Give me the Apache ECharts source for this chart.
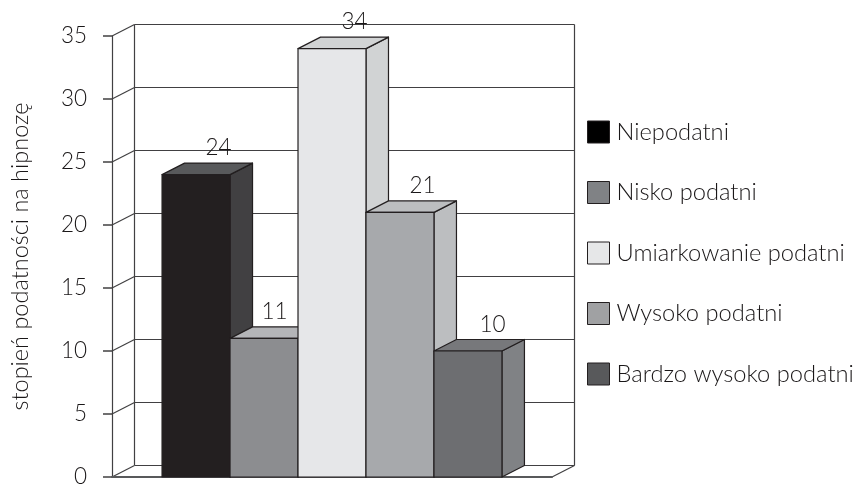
<!DOCTYPE html>
<html>
<head>
<meta charset="utf-8">
<style>html,body{margin:0;padding:0;background:#fff}#c{width:857px;height:484px}</style>
<script src="https://cdn.jsdelivr.net/npm/echarts@6/dist/echarts.min.js"></script>
</head>
<body>
<div id="c"></div>
<script>
const categories = [''];
const seriesNames = ['Niepodatni', 'Nisko podatni', 'Umiarkowanie podatni', 'Wysoko podatni', 'Bardzo wysoko podatni'];
const seriesValues = [24, 11, 34, 21, 10];
const yTicks = [0, 5, 10, 15, 20, 25, 30, 35];
const yAxisTitle = 'stopień podatności na hipnozę';

const frontColors = ['#231f20', '#8c8d90', '#e6e7e9', '#a7a9ac', '#6d6e71'];
const sideColors = ['#414042', '#a7a9ac', '#d1d3d4', '#bcbec0', '#808285'];
const topColors = ['#58595b', '#b4b5b8', '#d1d3d4', '#bcbec0', '#77787b'];
const legendColors = ['#000000', '#808285', '#e6e7e8', '#a0a1a3', '#58595b'];

const FONT = 'Lato, sans-serif';
const TEXT = '#1a1718';
const LINE = '#414042';
const DEPTH_X = 22.5;
const DEPTH_Y = 11.5;
const BAR_SHARE = 0.1545;
// Horizontal label shift per column; the second label sits clear of the taller neighbour.
const LABEL_SHIFT = [0, -12, 0, 0, 2];

// Back wall, side wall and floor of the 3D box, one gridline per tick.
function renderWalls(params, api) {
  const cs = params.coordSys;
  const y = api.coord([0, api.value(0)])[1];
  const lineStyle = { stroke: LINE, lineWidth: 1.2, fill: null };
  const left = cs.x, right = cs.x + cs.width;
  const children = [
    { type: 'line', shape: { x1: left, y1: y, x2: left + DEPTH_X, y2: y - DEPTH_Y }, style: lineStyle },
    { type: 'line', shape: { x1: left + DEPTH_X, y1: y - DEPTH_Y, x2: right + DEPTH_X, y2: y - DEPTH_Y }, style: lineStyle }
  ];
  if (api.value(0) === 0) {
    const topY = cs.y - DEPTH_Y;
    children.push(
      { type: 'line', shape: { x1: left + DEPTH_X, y1: y - DEPTH_Y, x2: left + DEPTH_X, y2: topY }, style: lineStyle },
      { type: 'line', shape: { x1: right + DEPTH_X, y1: y - DEPTH_Y, x2: right + DEPTH_X, y2: topY }, style: lineStyle },
      { type: 'line', shape: { x1: right, y1: y, x2: right + DEPTH_X, y2: y - DEPTH_Y }, style: lineStyle }
    );
  }
  return { type: 'group', children };
}

// One extruded column per series, clustered around the single category.
function barRenderer(index) {
  return function (params, api) {
    const base = api.coord([api.value(0), 0]);
    const top = api.coord([api.value(0), api.value(1)]);
    const band = api.size([1, 0])[0];
    const w = band * BAR_SHARE;
    const x0 = base[0] + (index - seriesNames.length / 2) * w;
    const x1 = x0 + w;
    const yT = top[1], yB = base[1];
    const edge = { stroke: '#231f20', lineWidth: 1.2, lineJoin: 'round' };
    return {
      type: 'group',
      children: [
        { type: 'polygon', shape: { points: [[x1, yT], [x1 + DEPTH_X, yT - DEPTH_Y], [x1 + DEPTH_X, yB - DEPTH_Y], [x1, yB]] },
          style: { fill: sideColors[index], ...edge } },
        { type: 'polygon', shape: { points: [[x0, yT], [x0 + DEPTH_X, yT - DEPTH_Y], [x1 + DEPTH_X, yT - DEPTH_Y], [x1, yT]] },
          style: { fill: topColors[index], ...edge } },
        { type: 'rect', shape: { x: x0, y: yT, width: w, height: yB - yT },
          style: { fill: frontColors[index], ...edge } },
        { type: 'text', z2: 10, style: {
            x: (x0 + x1) / 2 + DEPTH_X + LABEL_SHIFT[index], y: yT - DEPTH_Y - 15,
            text: String(api.value(1)), align: 'center', verticalAlign: 'middle',
            font: '300 22.5px ' + FONT, fill: TEXT } }
      ]
    };
  };
}

const barSeries = seriesNames.map((name, i) => ({
  name,
  type: 'custom',
  renderItem: barRenderer(i),
  data: [[categories[0], seriesValues[i]]],
  encode: { x: 0, y: 1 },
  itemStyle: { color: legendColors[i] },
  z: 3 + i,
  clip: false,
  silent: true
}));

const chart = echarts.init(document.getElementById('c'), null, { renderer: 'canvas' });
chart.setOption({
  animation: false,
  backgroundColor: '#ffffff',
  grid: { left: 112, right: 305, top: 36, bottom: 7, containLabel: false, outerBoundsMode: 'none' },
  xAxis: {
    type: 'category', data: categories,
    axisLine: { show: true, lineStyle: { color: '#58595b', width: 2 } },
    axisTick: { show: false }, axisLabel: { show: false }, splitLine: { show: false }, z: 2
  },
  yAxis: {
    type: 'value', min: 0, max: 35, interval: 5,
    name: yAxisTitle, nameLocation: 'middle', nameRotate: 90, nameGap: 80,
    nameTextStyle: { fontFamily: FONT, fontWeight: 300, fontSize: 23.5, color: TEXT },
    axisLine: { show: true, lineStyle: { color: LINE, width: 1.2 } },
    axisTick: { show: true, length: 9, lineStyle: { color: LINE, width: 1.5 } },
    axisLabel: { fontFamily: FONT, fontWeight: 300, fontSize: 22.5, color: TEXT, margin: 25 },
    splitLine: { show: false }
  },
  legend: {
    orient: 'vertical', left: 582, top: 112,
    itemWidth: 22, itemHeight: 22, itemGap: 30.5, icon: 'rect',
    data: seriesNames.map((name, i) => ({
      name, itemStyle: { color: legendColors[i], borderColor: '#231f20', borderWidth: 1 }
    })),
    selectedMode: false,
    textStyle: { fontFamily: FONT, fontWeight: 300, fontSize: 23.7, color: TEXT, padding: [0, 0, 0, 2], lineHeight: 30 }
  },
  series: [
    { type: 'custom', name: 'walls', renderItem: renderWalls, data: yTicks.map(t => [t]),
      encode: { y: 0 }, z: 1, clip: false, silent: true },
    ...barSeries
  ]
});
</script>
</body>
</html>
